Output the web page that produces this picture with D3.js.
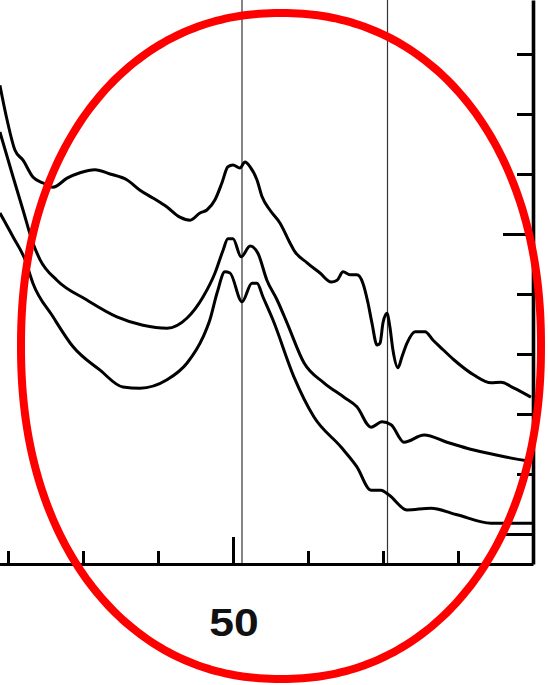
<!DOCTYPE html>
<html>
<head>
<meta charset="utf-8">
<script src="https://cdn.jsdelivr.net/npm/d3@7"></script>
<style>
  html, body { margin: 0; padding: 0; background: #fff; }
  svg { display: block; }
</style>
</head>
<body>
<svg width="548" height="685"></svg>
<script>
// 2theta (deg) and intensity (a.u.)
const topX = [42.23,42.47,42.73,43.0,43.33,43.67,44.0,44.47,44.9,45.4,45.9,46.47,46.9,47.33,47.8,48.23,48.57,48.9,49.13,49.4,49.63,49.83,50.0,50.23,50.4,50.57,50.8,50.97,51.23,51.57,51.9,52.03,52.47,52.9,53.27,53.47,53.67,53.9,54.13,54.33,54.5,54.63,54.8,54.9,55.0,55.13,55.23,55.33,55.5,55.63,55.8,56.07,56.4,56.67,56.9,57.37,58.03,58.6,58.93,59.37,59.93]
const topY = [8.48,7.9,7.4,7.23,6.95,6.85,6.78,6.93,7.02,7.07,7.0,6.9,6.73,6.6,6.45,6.28,6.23,6.35,6.4,6.57,6.85,7.12,7.15,7.1,7.2,7.12,6.9,6.62,6.4,6.18,5.85,5.73,5.52,5.35,5.2,5.23,5.37,5.32,5.32,5.18,4.85,4.52,4.15,4.18,4.52,4.68,4.45,4.07,3.77,3.95,4.18,4.37,4.37,4.23,4.12,3.9,3.65,3.52,3.53,3.43,3.28]

const midX = [42.23,42.67,43.0,43.33,43.57,44.13,45.13,46.13,47.0,47.8,48.47,49.0,49.4,49.67,49.83,50.0,50.27,50.57,50.83,51.13,51.47,51.8,52.37,53.03,53.7,54.13,54.6,54.97,55.27,55.7,56.37,57.13,57.8,58.47,59.13,59.8,60.07]
const midY = [7.7,6.95,6.4,5.85,5.57,5.23,4.9,4.62,4.48,4.43,4.6,4.95,5.35,5.73,5.92,5.92,5.62,5.8,5.68,5.23,4.9,4.52,3.85,3.52,3.28,3.12,2.78,2.87,2.82,2.53,2.65,2.53,2.43,2.35,2.28,2.22,2.2]

const lowX = [42.23,42.67,43.07,43.33,44.0,44.67,45.57,46.33,46.9,47.8,48.47,49.0,49.23,49.47,49.73,49.9,50.3,50.63,50.8,51.0,51.33,52.03,52.7,53.6,54.13,54.6,54.93,55.2,55.8,56.6,57.47,58.6,60.07]
const lowY = [6.35,5.95,5.57,5.18,4.62,4.12,3.73,3.45,3.43,3.57,3.85,4.28,4.57,5.02,5.37,5.35,4.87,5.18,5.18,4.95,4.57,3.62,2.95,2.45,2.12,1.73,1.73,1.65,1.4,1.43,1.32,1.18,1.18]

const refLines = [50.3, 55.15]
const xTicks = [42.5,45,47.5,50,52.5,55,57.5,60]
const xMajor = [50, 60]
const xLabels = [50]
const yTicks = [1,2,3,4,5,6,7,8,9]
const yMajor = [1, 6]

const plotRight = 533, plotBottom = 564

var svg = d3.select("svg")

const x = d3.scaleLinear().domain([40, 60]).range([-67, plotRight])
const y = d3.scaleLinear().domain([0.5, 9.9]).range([plotBottom, 0])

svg.append("defs").append("clipPath").attr("id", "plotclip")
  .append("rect")
  .attr("x", 0).attr("y", 0)
  .attr("width", plotRight).attr("height", plotBottom)

const g = svg.append("g")

// reference lines
g.selectAll(".ref")
  .data(refLines)
  .enter()
  .append("line")
  .attr("class", "ref")
  .attr("x1", d => x(d)).attr("x2", d => x(d))
  .attr("y1", 0).attr("y2", plotBottom)
  .attr("stroke", "#333")
  .attr("stroke-width", 1.2)

// spectra
const series = [[topX, topY], [midX, midY], [lowX, lowY]]
const line = d3.line()
  .x(d => x(d[0]))
  .y(d => y(d[1]))
  .curve(d3.curveMonotoneX)

g.append("g")
  .attr("clip-path", "url(#plotclip)")
  .selectAll("path")
  .data(series.map(s => s[0].map((v, i) => [v, s[1][i]])))
  .enter()
  .append("path")
  .attr("d", line)
  .attr("fill", "none")
  .attr("stroke", "black")
  .attr("stroke-width", 3)
  .attr("stroke-linejoin", "round")

// bottom axis, ticks pointing up
const xAxis = d3.axisBottom(x)
  .tickValues(xTicks)
  .tickSizeInner(-13)
  .tickSizeOuter(0)
  .tickPadding(0)
  .tickFormat("")

const gx = g.append("g")
  .attr("transform", `translate(0, ${plotBottom})`)
  .call(xAxis)
gx.select(".domain").attr("stroke-width", 3.2)
gx.selectAll(".tick line")
  .attr("stroke-width", 3)
  .attr("y2", d => xMajor.includes(d) ? -27 : -13)

g.selectAll(".xlabel")
  .data(xLabels)
  .enter()
  .append("text")
  .attr("class", "xlabel")
  .attr("transform", d => `translate(${x(d) + 1}, 636) scale(1.17, 1)`)
  .attr("text-anchor", "middle")
  .attr("font-family", "Liberation Sans, Arial, sans-serif")
  .attr("font-weight", "bold")
  .attr("font-size", "38px")
  .attr("fill", "#111")
  .text(d => d)

// right axis, ticks pointing in
const yAxis = d3.axisLeft(y)
  .tickValues(yTicks)
  .tickSizeInner(16)
  .tickSizeOuter(0)
  .tickFormat("")

const gy = g.append("g")
  .attr("transform", `translate(${plotRight}, 0)`)
  .call(yAxis)
gy.select(".domain").attr("stroke-width", 3.6)
gy.selectAll(".tick line")
  .attr("stroke-width", 3)
  .attr("x2", d => yMajor.includes(d) ? -30 : -16)

// red hand-drawn style ring on top
const ring = {cx: 281, cy: 346, rx: 260, ry: 333, n: 2.15}
const angles = d3.range(0, 2 * Math.PI + 0.01, Math.PI / 180)
const ringLine = d3.line()
  .x(a => ring.cx + ring.rx * Math.sign(Math.cos(a)) * Math.pow(Math.abs(Math.cos(a)), 2 / ring.n))
  .y(a => ring.cy + ring.ry * Math.sign(Math.sin(a)) * Math.pow(Math.abs(Math.sin(a)), 2 / ring.n))
  .curve(d3.curveLinearClosed)

svg.append("path")
  .attr("d", ringLine(angles))
  .attr("fill", "none")
  .attr("stroke", "#ff0000")
  .attr("stroke-width", 8)
</script>
</body>
</html>
